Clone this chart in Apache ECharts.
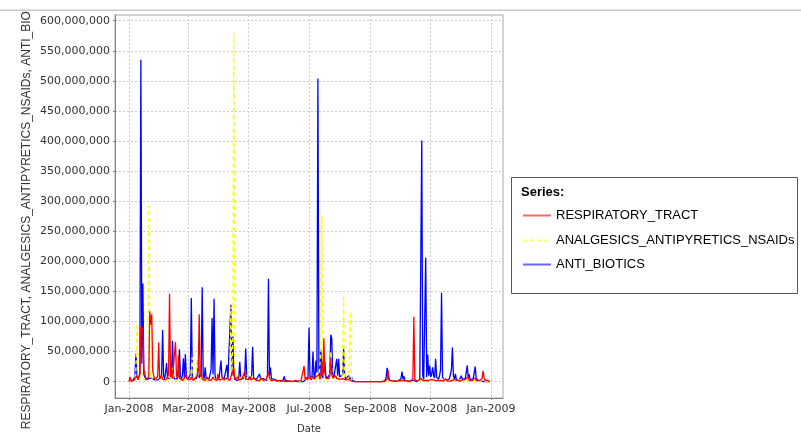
<!DOCTYPE html>
<html>
<head>
<meta charset="utf-8">
<title>Daily sales by therapeutic group, 2008</title>
<script src="https://cdn.jsdelivr.net/npm/echarts@6/dist/echarts.min.js"></script>
<style>
  html, body { margin: 0; padding: 0; background: #ffffff; }
  #chart { width: 801px; height: 434px; }
</style>
</head>
<body>
<div id="chart"></div>
<script>
// Daily values for 2008, in millions, one row per month (Jan 1 .. Dec 31).
const respiratoryTract = [
  /* Jan */ 0,8,2,1,4,2,3,1,10,3,2,12,92,86,90,20,15,4,2,5,8,117,95,112,18,10,4,6,3,8,65,
  /* Feb */ 5,3,10,4,2,6,3,5,8,12,146,8,20,5,3,6,66,10,4,43,6,3,8,2,4,6,3,12,5,
  /* Mar */ 4,6,3,8,5,2,4,6,3,10,20,112,8,15,4,3,6,2,5,8,3,4,6,2,5,8,4,3,5,2,13,
  /* Apr */ 3,5,2,4,8,3,2,5,6,3,4,2,8,5,6,22,4,3,5,8,3,2,6,4,3,5,17,4,3,6,
  /* May */ 4,8,3,5,2,6,3,4,2,5,3,2,4,6,3,2,4,3,5,8,17,6,4,2,3,2,3,1,2,1,2,
  /* Jun */ 1,2,1,0,1,2,1,0,1,0,1,2,1,0,0,1,2,1,0,1,0,1,2,1,3,26,4,8,3,2,
  /* Jul */ 5,8,3,6,10,4,3,8,5,6,12,4,8,33,10,72,15,6,8,4,5,10,39,12,6,4,8,10,5,3,6,
  /* Aug */ 4,6,3,5,8,4,3,5,2,4,3,2,1,1,0,0,0,0,0,0,0,0,0,0,0,0,0,0,0,0,0,
  /* Sep */ 0,0,0,0,0,0,0,0,0,0,0,0,0,0,0,1,2,4,19,3,1,0,1,0,0,1,0,0,1,0,
  /* Oct */ 1,2,4,1,2,1,0,1,0,1,0,1,2,5,108,3,1,2,1,0,1,6,3,2,1,4,2,1,3,2,1,
  /* Nov */ 2,4,1,3,2,5,1,2,3,1,2,4,3,1,2,5,2,1,3,2,1,2,4,3,1,2,3,1,2,1,
  /* Dec */ 1,2,3,1,2,4,2,3,8,2,1,3,2,4,1,6,2,1,3,2,1,2,5,18,6,2,4,1,2,1,0
];

const analgesicsNsaids = [
  /* Jan */ 0,0,1,2,1,3,6,20,97,8,2,3,10,15,8,4,2,3,5,12,292,30,10,5,3,6,12,4,2,3,2,
  /* Feb */ 3,2,5,8,3,2,4,3,2,6,10,4,8,23,6,3,2,5,3,2,8,4,2,3,6,2,4,3,2,
  /* Mar */ 2,3,5,8,40,6,3,2,5,35,8,4,3,2,6,3,2,4,3,2,5,3,2,4,6,3,8,4,2,3,5,
  /* Apr */ 2,3,5,3,2,4,3,6,4,3,2,8,125,15,75,580,20,15,6,4,3,5,8,4,10,6,3,5,12,4,
  /* May */ 3,4,2,5,10,3,2,4,3,2,3,5,2,3,2,4,2,3,2,5,8,4,6,3,2,1,2,1,1,0,1,
  /* Jun */ 0,1,0,0,1,0,0,1,0,0,0,1,0,0,1,0,0,0,1,0,0,1,0,0,2,5,3,6,4,3,
  /* Jul */ 4,6,3,5,8,4,3,6,4,10,6,4,50,277,15,8,5,3,6,4,3,8,50,20,6,4,3,5,8,4,6,
  /* Aug */ 5,3,6,20,145,8,4,3,6,5,8,116,6,2,1,0,0,0,0,0,0,0,0,0,0,0,0,0,0,0,0,
  /* Sep */ 0,0,0,0,0,0,0,0,0,0,0,0,0,0,0,0,1,2,1,0,0,0,0,1,0,0,0,1,0,0,
  /* Oct */ 0,1,0,1,0,0,1,0,0,0,1,0,0,1,0,0,1,0,0,1,0,2,4,3,2,5,3,2,4,3,2,
  /* Nov */ 3,2,4,6,3,2,5,3,2,4,3,6,8,5,3,2,4,2,3,2,3,4,6,3,2,3,2,1,2,3,
  /* Dec */ 2,3,2,4,2,3,5,4,3,2,3,2,4,3,2,5,3,2,1,2,1,0,1,0,1,0,0,1,0,0,0
];

const antiBiotics = [
  /* Jan */ 0,1,2,1,3,5,10,47,12,4,6,15,535,30,163,12,8,3,2,4,5,3,2,6,4,6,3,2,4,3,5,
  /* Feb */ 4,6,12,86,10,5,15,31,6,4,8,5,12,68,10,4,6,3,5,14,54,8,4,10,39,6,46,8,4,
  /* Mar */ 5,8,12,139,10,6,4,8,5,10,36,6,4,15,157,10,5,24,6,4,8,5,6,20,106,12,138,10,5,8,4,
  /* Apr */ 4,6,35,8,5,3,6,4,28,5,3,8,128,10,75,12,4,3,5,2,6,33,5,3,4,6,10,55,8,3,
  /* May */ 5,8,4,10,58,6,3,5,4,2,6,13,4,3,2,5,3,4,2,8,171,10,24,5,3,2,4,2,3,2,1,
  /* Jun */ 1,0,1,2,3,9,2,1,0,1,0,0,1,0,0,1,0,0,0,1,0,0,0,1,0,3,2,4,6,8,
  /* Jul */ 90,10,8,5,50,12,6,35,15,504,20,8,53,10,6,8,33,10,5,4,6,12,78,72,10,6,8,5,38,10,38,
  /* Aug */ 8,5,6,12,55,10,4,3,5,10,4,3,8,2,1,0,0,0,0,0,0,0,0,0,0,0,0,0,0,0,0,
  /* Sep */ 0,0,0,0,0,0,0,0,0,0,0,0,0,0,0,2,8,23,12,3,1,0,1,0,0,1,0,0,1,0,
  /* Oct */ 2,5,17,4,9,2,1,0,1,0,0,1,0,0,2,1,0,0,1,2,3,5,401,10,4,6,206,8,45,10,27,
  /* Nov */ 8,12,24,10,6,38,8,5,4,10,20,148,8,4,5,3,2,4,3,5,8,20,57,10,4,13,3,2,4,3,
  /* Dec */ 3,10,4,2,3,5,8,27,6,12,3,2,4,5,8,25,6,3,2,5,2,1,0,1,0,0,1,0,0,0,0
];

const seriesNames = ['RESPIRATORY_TRACT', 'ANALGESICS_ANTIPYRETICS_NSAIDs', 'ANTI_BIOTICS'];
const seriesColors = ['#ff0000', '#ffff00', '#0000ff'];
const xTickDates = ['2008-01-01', '2008-03-01', '2008-05-01', '2008-07-01', '2008-09-01', '2008-11-01', '2009-01-01'];
const yTickValues = [0, 50e6, 100e6, 150e6, 200e6, 250e6, 300e6, 350e6, 400e6, 450e6, 500e6, 550e6, 600e6];
const monthNames = ['Jan', 'Feb', 'Mar', 'Apr', 'May', 'Jun', 'Jul', 'Aug', 'Sep', 'Oct', 'Nov', 'Dec'];

const DAY = 86400000;
const startDay = Date.UTC(2008, 0, 1);
const toUtc = s => { const p = s.split('-').map(Number); return Date.UTC(p[0], p[1] - 1, p[2]); };
const xTicks = xTickDates.map(toUtc);
const toPoints = arr => arr.map((v, i) => [startDay + i * DAY, v * 1e6]);

const fontTicks = 'DejaVu Sans, sans-serif';
const fontText = 'Liberation Sans, Arial, sans-serif';
const gridStroke = { color: '#cccccc', type: [2, 2], width: 1 };

// One legend block per series so rows sit at fixed heights inside the box
const legendRowTops = [204, 229, 253];
const legends = seriesNames.map((name, i) => ({
  orient: 'vertical',
  left: 517, top: legendRowTops[i],
  itemWidth: 28, itemHeight: 14, itemGap: 0,
  data: [name],
  itemStyle: { opacity: 0 },
  lineStyle: { width: 2, opacity: 0.6 },
  textStyle: { fontFamily: fontText, fontSize: 13, color: '#000' }
}));

const chart = echarts.init(document.getElementById('chart'), null, { renderer: 'canvas' });

chart.setOption({
  animation: false,
  backgroundColor: '#ffffff',
  grid: {
    left: 115, top: 15, width: 388, height: 383,
    outerBoundsMode: 'none',
    containLabel: false,
    show: true, borderColor: '#a8a8a8', borderWidth: 1, backgroundColor: '#ffffff'
  },
  xAxis: {
    type: 'value',
    min: startDay - 14.15 * DAY,
    max: toUtc('2009-01-01') + 12.13 * DAY,
    name: 'Date',
    nameLocation: 'middle',
    nameGap: 26,
    nameTextStyle: { fontFamily: fontTicks, fontSize: 10, color: '#333' },
    axisLine: { show: true, onZero: false, lineStyle: { color: '#808080' } },
    axisTick: { show: true, length: 2, customValues: xTicks, lineStyle: { color: '#808080' } },
    axisLabel: {
      customValues: xTicks,
      margin: 6,
      fontFamily: fontTicks, fontSize: 11, color: '#333',
      formatter: v => { const d = new Date(v); return monthNames[d.getUTCMonth()] + '-' + d.getUTCFullYear(); }
    },
    splitLine: { show: true, lineStyle: gridStroke }
  },
  yAxis: {
    type: 'value',
    min: -27.1e6,
    max: 609.5e6,
    name: seriesNames.join(', '),
    nameLocation: 'middle',
    nameGap: 82,
    nameRotate: 90,
    nameTextStyle: { fontFamily: fontText, fontSize: 12, color: '#333' },
    axisLine: { show: true, lineStyle: { color: '#808080' } },
    axisTick: { show: true, length: 2, customValues: yTickValues, lineStyle: { color: '#808080' } },
    axisLabel: {
      customValues: yTickValues,
      margin: 5,
      fontFamily: fontTicks, fontSize: 11, color: '#333',
      formatter: v => Math.round(v).toLocaleString('en-US')
    },
    splitLine: { show: true, lineStyle: gridStroke }
  },
  legend: legends,
  graphic: [
    { type: 'rect', z: 0, shape: { x: 511.5, y: 177.5, width: 286, height: 116 },
      style: { fill: '#ffffff', stroke: '#555555', lineWidth: 1 } },
    { type: 'text', z: 1, left: 521, top: 186,
      style: { text: 'Series:', fontFamily: fontText, fontSize: 13, fontWeight: 'bold', fill: '#000' } },
    { type: 'rect', z: 100, shape: { x: 0, y: 0, width: 801, height: 10 }, style: { fill: '#ffffff' } },
    { type: 'rect', z: 100, shape: { x: 0, y: 9.5, width: 801, height: 1.5 }, style: { fill: '#c8c8c8' } }
  ],
  series: [
    { name: seriesNames[2], type: 'line', z: 2, symbol: 'none', data: toPoints(antiBiotics),
      lineStyle: { color: seriesColors[2], width: 1.3 }, itemStyle: { color: seriesColors[2] } },
    { name: seriesNames[1], type: 'line', z: 3, symbol: 'none', data: toPoints(analgesicsNsaids),
      lineStyle: { color: seriesColors[1], width: 1.3, type: [4, 3] }, itemStyle: { color: seriesColors[1] } },
    { name: seriesNames[0], type: 'line', z: 4, symbol: 'none', data: toPoints(respiratoryTract),
      lineStyle: { color: seriesColors[0], width: 1.3 }, itemStyle: { color: seriesColors[0] } }
  ]
});
</script>
</body>
</html>
